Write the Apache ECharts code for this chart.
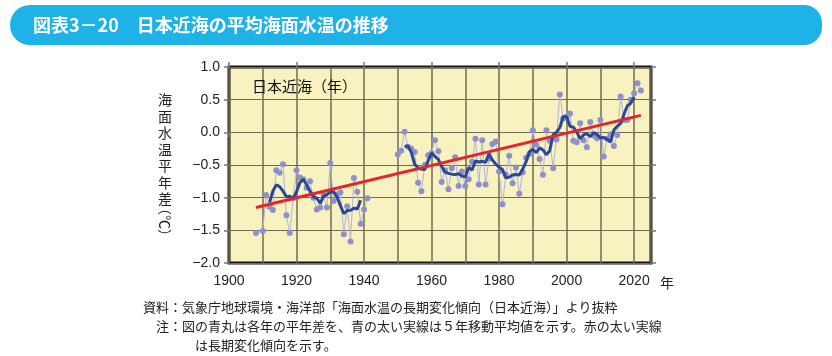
<!DOCTYPE html>
<html>
<head>
<meta charset="utf-8">
<script src="https://cdn.jsdelivr.net/npm/echarts@6/dist/echarts.min.js"></script>
<style>
html,body{margin:0;padding:0;background:#fff;}
#c{width:832px;height:356px;}
</style>
</head>
<body>
<div id="c"></div>
<script>
// ---- Data ----
const yearsEarly = [1908,1910,1911,1912,1913,1914,1915,1916,1917,1918,1919,1920,1921,1922,1923,1924,1925,1926,1927,1928,1929,1930,1931,1932,1933,1934,1935,1936,1937,1938,1939,1940,1941];
const anomEarly  = [-1.54,-1.51,-0.96,-1.14,-1.19,-0.58,-0.62,-0.49,-1.27,-1.54,-1.01,-0.58,-0.69,-0.72,-0.85,-0.75,-1.00,-1.18,-1.15,-0.95,-1.15,-0.47,-1.05,-0.95,-0.92,-1.56,-1.13,-1.67,-0.70,-0.91,-1.40,-1.18,-1.01];
const yearsLate = [1950,1951,1952,1953,1954,1955,1956,1957,1958,1959,1960,1961,1962,1963,1964,1965,1966,1967,1968,1969,1970,1971,1972,1973,1974,1975,1976,1977,1978,1979,1980,1981,1982,1983,1984,1985,1986,1987,1988,1989,1990,1991,1992,1993,1994,1995,1996,1997,1998,1999,2000,2001,2002,2003,2004,2005,2006,2007,2008,2009,2010,2011,2012,2013,2014,2015,2016,2017,2018,2019,2020,2021,2022];
const anomLate  = [-0.34,-0.28,0.01,-0.22,-0.25,-0.30,-0.77,-0.90,-0.50,-0.35,-0.32,-0.12,-0.29,-0.76,-0.58,-0.87,-0.55,-0.38,-0.82,-0.60,-0.82,-0.72,-0.45,-0.10,-0.80,-0.12,-0.80,-0.40,-0.18,-0.14,-0.60,-1.10,-0.65,-0.36,-0.78,-0.54,-0.94,-0.61,-0.39,-0.33,0.03,-0.19,-0.41,-0.65,0.03,-0.13,-0.55,-0.11,0.58,0.21,0.24,0.29,-0.13,-0.15,0.14,-0.12,-0.23,0.16,-0.05,-0.09,0.19,-0.37,-0.10,-0.03,-0.21,-0.04,0.55,0.19,0.19,0.50,0.60,0.75,0.64];
const trendYears = [1908, 2022];
const trendValues = [-1.15, 0.26];
const xTickYears = [1900, 1920, 1940, 1960, 1980, 2000, 2020];

const titleText = '図表3－20　日本近海の平均海面水温の推移';
const yTitleChars = ['海','面','水','温','平','年','差'];
const yTitleUnit = '（℃）';
const plotLabel = '日本近海（年）';
const note1Head = '資料：';
const note1 = '気象庁地球環境・海洋部「海面水温の長期変化傾向（日本近海）」より抜粋';
const note2Head = '注：';
const note2 = '図の青丸は各年の平年差を、青の太い実線は５年移動平均値を示す。赤の太い実線';
const note3 = 'は長期変化傾向を示す。';

// ---- helpers ----
function pairs(xs, ys){ return xs.map((x,i)=>[x, ys[i]]); }
// 5-year centred moving average (only where all five years exist)
function movingAvg(xs, ys){
  const m = new Map(xs.map((x,i)=>[x, ys[i]]));
  const out = [];
  xs.forEach(x=>{
    let s=0, ok=true;
    for(let k=-2;k<=2;k++){ if(!m.has(x+k)){ok=false;break;} s+=m.get(x+k); }
    if(ok) out.push([x, s/5]);
  });
  return out;
}

const JP = '"Noto Sans CJK JP","Noto Sans",sans-serif';
const LAT = '"Liberation Sans",Arial,sans-serif';
const gridColor = '#6f6c50';

const chart = echarts.init(document.getElementById('c'), null, {renderer:'canvas'});

const pointStyle = {
  type:'line', xAxisIndex:0, yAxisIndex:0,
  symbol:'circle', symbolSize:6, showSymbol:true,
  itemStyle:{color:'#8e90cc', borderWidth:0},
  lineStyle:{color:'#b2b3dc', width:1},
  z:2, silent:true
};
const maStyle = {
  type:'line', xAxisIndex:0, yAxisIndex:0, symbol:'none',
  lineStyle:{color:'#2a4698', width:3}, z:3, silent:true
};

const graphics = [
  {type:'rect', shape:{x:10, y:5, width:812, height:40, r:[20,18,18,20]}, style:{fill:'#1fb2e7'}},
  {type:'text', x:33, y:25, style:{text:titleText, fill:'#fff', font:'bold 18px '+JP, verticalAlign:'middle', textAlign:'left'}},
  {type:'text', x:252, y:86, style:{text:plotLabel, fill:'#111', font:'15px '+JP, verticalAlign:'middle'}, z:10},
  {type:'text', x:660, y:283, style:{text:'年', fill:'#222', font:'14px '+JP, verticalAlign:'middle'}},
  {type:'text', x:182, y:307, style:{text:note1Head, fill:'#222', font:'13px '+JP, verticalAlign:'middle', textAlign:'right'}},
  {type:'text', x:182, y:307, style:{text:note1, fill:'#222', font:'13px '+JP, verticalAlign:'middle', textAlign:'left'}},
  {type:'text', x:182, y:326, style:{text:note2Head, fill:'#222', font:'13px '+JP, verticalAlign:'middle', textAlign:'right'}},
  {type:'text', x:182, y:326, style:{text:note2, fill:'#222', font:'13px '+JP, verticalAlign:'middle', textAlign:'left'}},
  {type:'text', x:195, y:345, style:{text:note3, fill:'#222', font:'13px '+JP, verticalAlign:'middle', textAlign:'left'}},
  {type:'text', x:165, y:222, rotation:-Math.PI/2, style:{text:yTitleUnit, fill:'#222', font:'14px '+JP, verticalAlign:'middle', textAlign:'center'}}
];
yTitleChars.forEach((ch,i)=>{
  graphics.push({type:'text', x:165, y:100 + i*16.5, style:{text:ch, fill:'#222', font:'14px '+JP, verticalAlign:'middle', textAlign:'center'}});
});

const option = {
  animation:false,
  backgroundColor:'#ffffff',
  grid:{left:229, right:181, top:67, bottom:93, show:true, backgroundColor:'#f7f2c0', borderColor:'#151515', borderWidth:3},
  xAxis:[
    {type:'value', min:1900, max:2025, interval:10, position:'bottom',
     axisLine:{show:false}, axisTick:{show:false}, axisLabel:{show:false},
     splitLine:{show:true, lineStyle:{color:gridColor, width:1.5}}},
    {type:'value', min:1900, max:2025, position:'bottom',
     axisLine:{show:false},
     axisTick:{show:true, inside:false, length:5, customValues:xTickYears, lineStyle:{color:'#777', width:1.5}},
     axisLabel:{show:true, customValues:xTickYears, margin:11, fontSize:14, fontFamily:LAT, color:'#222',
       formatter:v=>String(v)},
     splitLine:{show:false}},
    {type:'value', min:1900, max:2025, position:'top',
     axisLine:{show:false},
     axisTick:{show:true, inside:false, length:5, customValues:xTickYears, lineStyle:{color:'#777', width:1.5}},
     axisLabel:{show:false}, splitLine:{show:false}}
  ],
  yAxis:[
    {type:'value', min:-2, max:1, interval:0.5, position:'left',
     axisLine:{show:false},
     axisTick:{show:true, length:5, lineStyle:{color:'#777', width:1.5}},
     axisLabel:{margin:9, fontSize:14, fontFamily:LAT, color:'#222',
       formatter:v=> (v<0 ? '−'+Math.abs(v).toFixed(1) : v.toFixed(1))},
     splitLine:{show:true, lineStyle:{color:gridColor, width:1.2}}},
    {type:'value', min:-2, max:1, interval:0.5, position:'right',
     axisLine:{show:false},
     axisTick:{show:true, length:5, lineStyle:{color:'#777', width:1.5}},
     axisLabel:{show:false}, splitLine:{show:false}}
  ],
  graphic:graphics,
  series:[
    Object.assign({}, pointStyle, {data:pairs(yearsEarly, anomEarly)}),
    Object.assign({}, pointStyle, {data:pairs(yearsLate, anomLate)}),
    Object.assign({}, maStyle, {data:movingAvg(yearsEarly, anomEarly)}),
    Object.assign({}, maStyle, {data:movingAvg(yearsLate, anomLate)}),
    {type:'line', xAxisIndex:0, yAxisIndex:0, symbol:'none', data:pairs(trendYears, trendValues),
     lineStyle:{color:'#e4262a', width:3}, z:4, silent:true}
  ]
};
chart.setOption(option);
</script>
</body>
</html>
